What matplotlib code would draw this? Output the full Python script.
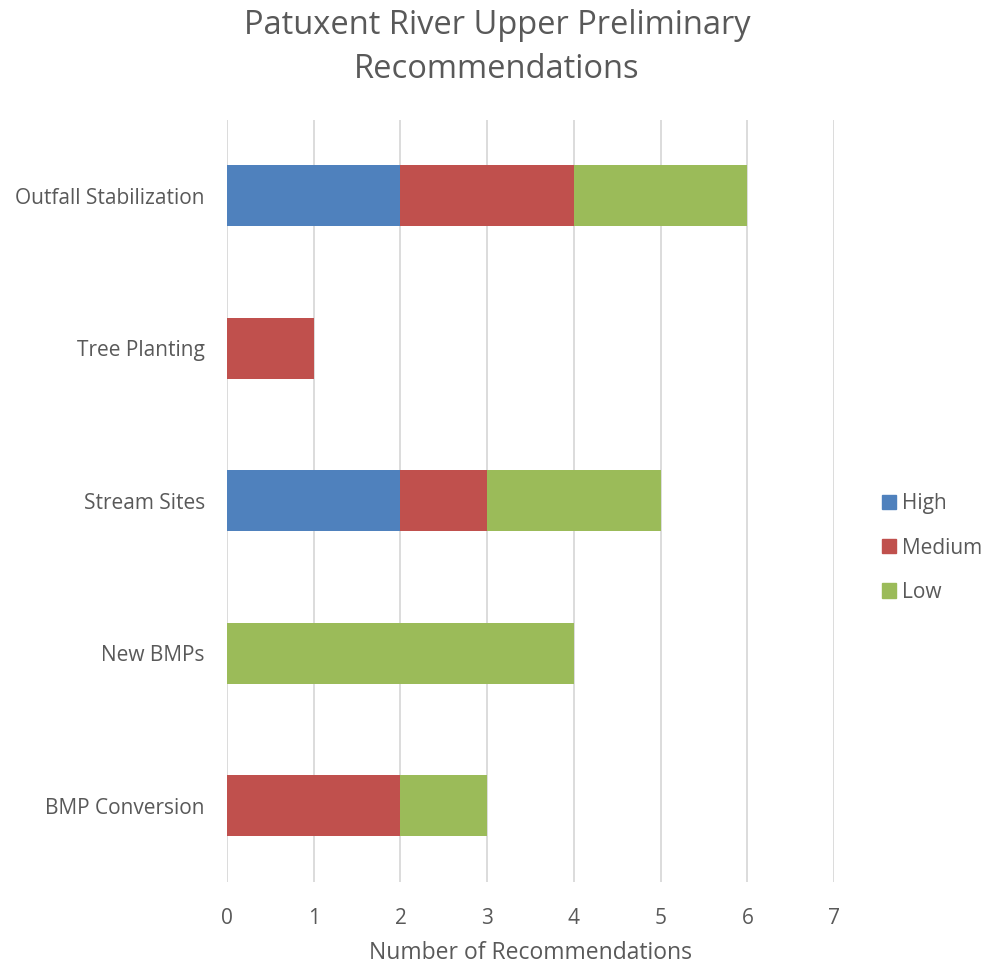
import matplotlib
matplotlib.use("Agg")
from matplotlib import pyplot as plt
from matplotlib.patches import Patch

categories = ["Outfall Stabilization", "Tree Planting", "Stream Sites", "New BMPs", "BMP Conversion"]
high = [2, 0, 2, 0, 0]
medium = [2, 1, 1, 0, 2]
low = [2, 0, 2, 4, 1]
series_names = ["High", "Medium", "Low"]
x_ticks = [0, 1, 2, 3, 4, 5, 6, 7]

colors = ["#4F81BD", "#C0504D", "#9BBB59"]
text_color = "#595959"

plt.rcParams['font.family'] = ['Open Sans', 'DejaVu Sans']

fig = plt.figure(figsize=[9.94, 9.65], dpi=100)
ax = fig.add_axes([0.2284, 0.086, 0.6107, 0.79])

ypos = list(range(len(categories)))
left = [0] * len(categories)
for vals, col in zip([high, medium, low], colors):
    ax.barh(ypos, vals, left=left, height=0.4, color=col, zorder=3)
    left = [a + b for a, b in zip(left, vals)]

ax.set_ylim(len(categories) - 0.5, -0.5)
ax.set_xlim(0, 7)
ax.set_xticks(x_ticks)
ax.set_yticks(ypos)
ax.set_yticklabels(categories)
ax.grid(axis='x', color='#D9D9D9', linewidth=1.3, zorder=0)
ax.tick_params(length=0, labelsize=15, labelcolor=text_color)
ax.tick_params(axis='x', pad=19)
ax.tick_params(axis='y', pad=16)
for s in ax.spines.values():
    s.set_visible(False)

ax.set_xlabel("Number of Recommendations", fontsize=16.5, color=text_color, labelpad=8)
fig.suptitle("Patuxent River Upper Preliminary\nRecommendations", fontsize=23.5, color=text_color,
             y=0.991, linespacing=1.45)

handles = [Patch(color=c, label=n) for c, n in zip(colors, series_names)]
fig.legend(handles=handles, loc='center left', bbox_to_anchor=(0.868, 0.432), frameon=False,
           fontsize=15, labelcolor=text_color, handlelength=0.68, handleheight=0.68,
           handletextpad=0.3, labelspacing=1.12)

plt.savefig("out.png", dpi=100)
